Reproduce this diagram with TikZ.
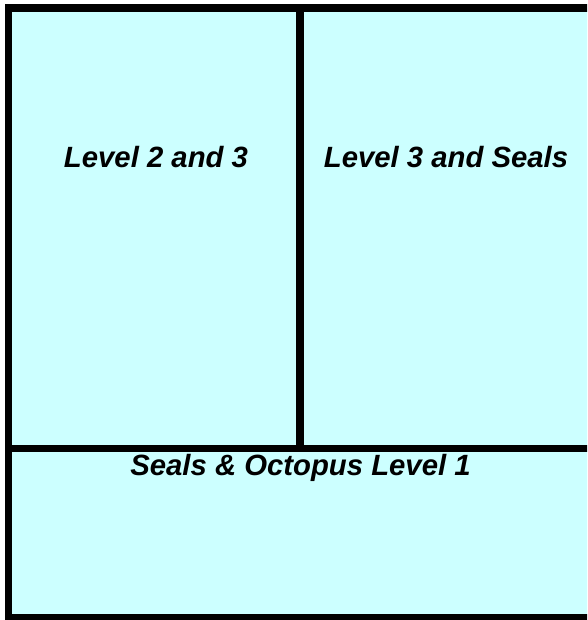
\documentclass[tikz,border=0pt]{standalone}
\usepackage{fontspec}
\setmainfont{Liberation Sans}
\definecolor{cellfill}{HTML}{CCFFFF}
\begin{document}
\begin{tikzpicture}[x=1pt,y=-1pt,
  wall/.style={draw=black,line width=7.5pt},
  lbl/.style={anchor=base,inner sep=0pt,font=\fontsize{29.3}{32}\selectfont\bfseries\itshape}]
\useasboundingbox (0,0) rectangle (587,620);
\clip (0,0) rectangle (587,620);
\fill[cellfill] (8.5,8) rectangle (592,617.5);
\draw[wall] (8.5,8) rectangle (592,617.5);
\draw[wall] (300,8) -- (300,448.5);
\draw[wall] (8.5,448.5) -- (592,448.5);
\node[lbl] (l23) at (156,168) {Level 2 and 3};
\node[lbl] (l3s) at (446,168) {Level 3 and Seals};
\node[lbl] (so1) at (300.5,475) {Seals \& Octopus Level 1};
\end{tikzpicture}
\end{document}
